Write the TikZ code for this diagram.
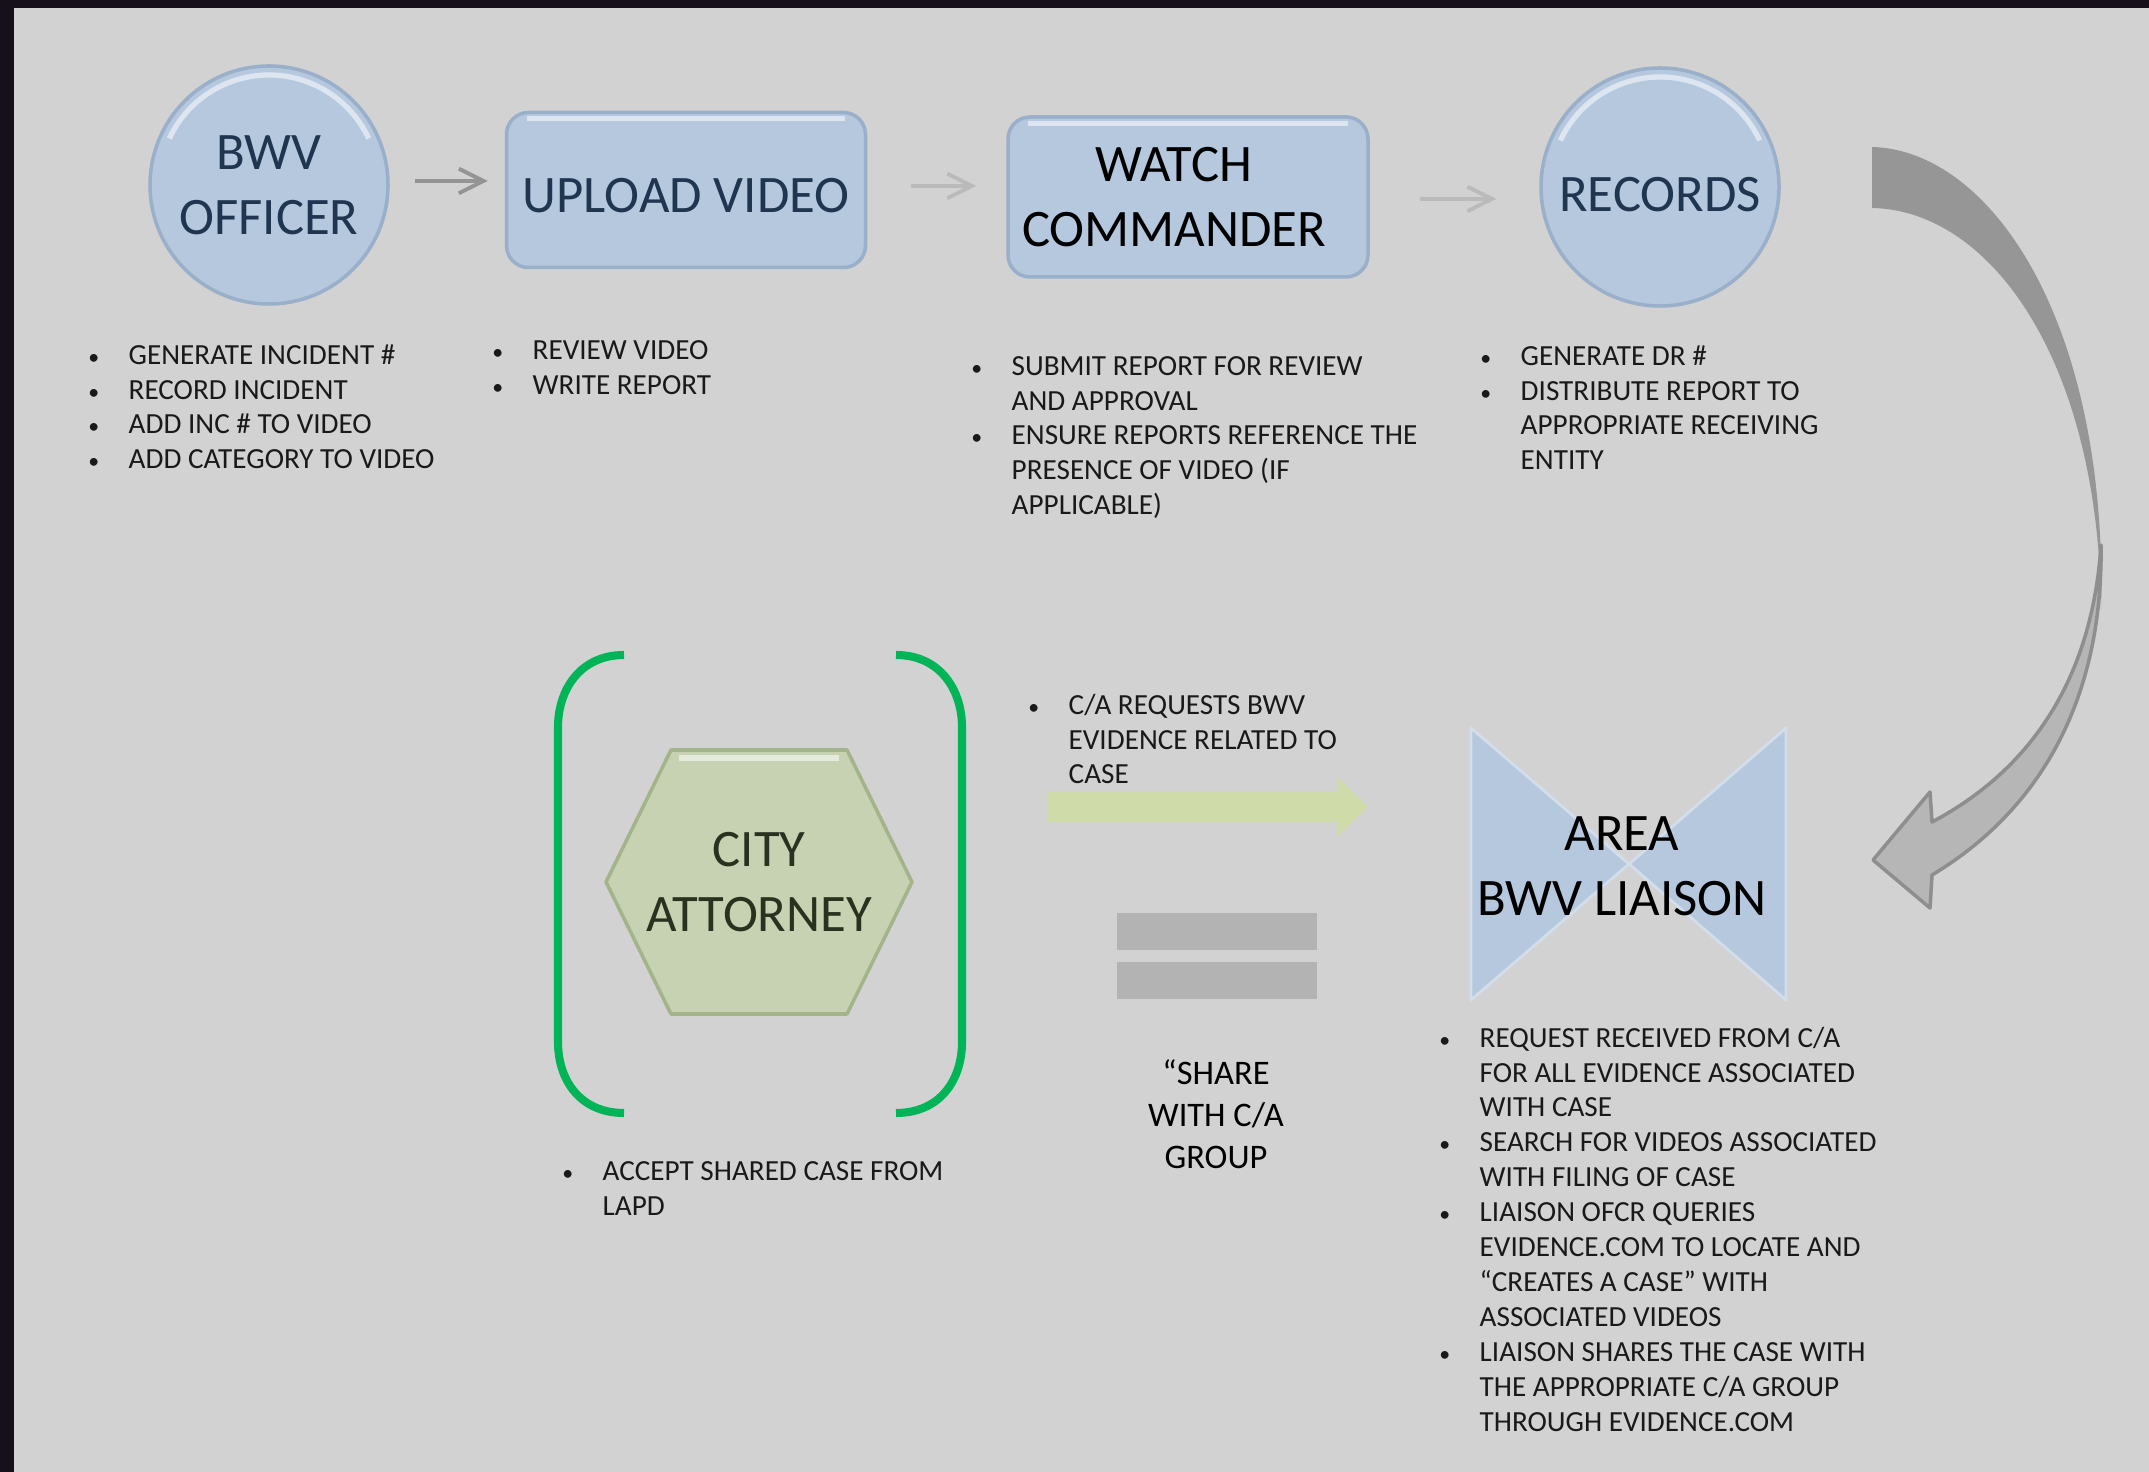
\documentclass[tikz,border=0pt]{standalone}
\usepackage{fontspec}
\setmainfont{Carlito}
\usetikzlibrary{calc,arrows.meta}
\definecolor{bgpanel}{HTML}{D2D2D2}
\definecolor{frame}{HTML}{15101A}
\definecolor{stepblue}{HTML}{B5C8DE}
\definecolor{stepedge}{HTML}{99AFCA}
\definecolor{navytext}{HTML}{1F3550}
\definecolor{sage}{HTML}{C6D2B2}
\definecolor{sageedge}{HTML}{A3B38A}
\definecolor{sagetext}{HTML}{29321E}
\definecolor{bracketgreen}{HTML}{00B457}
\definecolor{reqgreen}{HTML}{CFDCA9}
\definecolor{eqgray}{HTML}{B3B3B3}
\definecolor{curvedark}{HTML}{969696}
\definecolor{curvelight}{HTML}{B6B6B6}
\definecolor{curveedge}{HTML}{8E8E8E}
\newcommand{\bitem}{\strut\llap{\makebox[7mm]{\scalebox{0.75}{\textbullet}}}}

\begin{document}
\begin{tikzpicture}[x=0.1mm,y=-0.1mm,line join=round,
  title/.style={font=\fontsize{15}{18.5}\selectfont,align=center,inner sep=0},
  blist/.style={font=\fontsize{8.3}{9.93}\selectfont,align=left,anchor=north west,inner sep=0,text=black!90},
  roundnode/.style={circle,minimum size=23.8mm,fill=stepblue,draw=stepedge,line width=1pt,text=navytext},
  boxnode/.style={rounded corners=2.2mm,fill=stepblue,draw=stepedge,line width=1pt},
  flow/.style={-{Straight Barb[length=7pt,width=7pt]},line width=1.1pt},
  shine/.style={white,opacity=0.55,line width=1.5pt},
  bracket/.style={bracketgreen,line width=2.3pt}]
\useasboundingbox (0,0) rectangle (2149,1472);
\fill[bgpanel] (0,0) rectangle (2149,1472);
\fill[frame] (0,0) rectangle (14,1472);
\fill[frame] (0,0) rectangle (2149,8);

% top row
\node[roundnode,title] (officer) at (269,185) {BWV\\OFFICER};
\node[boxnode,title,minimum width=35.9mm,minimum height=15.5mm,text=navytext,text height=4.6mm,text depth=0mm] (upload) at (686,190) {UPLOAD VIDEO};
\node[boxnode,title,minimum width=36mm,minimum height=16mm,text=black] (watch) at (1188,197) {WATCH\hspace*{2.8mm}\\COMMANDER\hspace*{2.8mm}};
\node[roundnode,title,text height=5mm,text depth=0mm] (records) at (1660,187) {RECORDS};
\draw[shine] ($(officer.center)+(205:110)$) arc[start angle=205,end angle=335,radius=110];
\draw[shine] ($(records.center)+(205:110)$) arc[start angle=205,end angle=335,radius=110];
\draw[shine] ($(upload.north west)+(22,8)$) -- ($(upload.north east)+(-22,8)$);
\draw[shine] ($(watch.north west)+(22,8)$) -- ($(watch.north east)+(-22,8)$);

\draw[flow,black!42] ($(officer.east)+(25,-4)$) -- ($(upload.west)+(-17,-9)$);
\draw[flow,black!27] ($(upload.east)+(44,-4)$) -- ($(watch.west)+(-30,-11)$);
\draw[flow,black!27] ($(watch.east)+(50,2)$) -- ($(records.west)+(-43,12)$);

\node[blist] (officertasks) at (128,339) {\bitem GENERATE INCIDENT \#\\\bitem RECORD INCIDENT\\\bitem ADD INC \# TO VIDEO\\\bitem ADD CATEGORY TO VIDEO};
\node[blist] (uploadtasks) at (532,334) {\bitem REVIEW VIDEO\\\bitem WRITE REPORT};
\node[blist] (watchtasks) at (1011,350) {\bitem SUBMIT REPORT FOR REVIEW\\AND APPROVAL\\\bitem ENSURE REPORTS REFERENCE THE\\PRESENCE OF VIDEO (IF\\APPLICABLE)};
\node[blist] (recordtasks) at (1520,340) {\bitem GENERATE DR \#\\\bitem DISTRIBUTE REPORT TO\\APPROPRIATE RECEIVING\\ENTITY};

% curved arrow down to the liaison
\fill[curvedark] (1872,147) .. controls (1990,150) and (2108,320) .. (2101,610)
  .. controls (2099,360) and (1990,210) .. (1872,208) -- cycle;
\filldraw[fill=curvelight,draw=curveedge,line width=1pt] (2101,545) .. controls (2103,700) and (2040,810) .. (1932,875)
  -- (1930,908) -- (1873,860) -- (1930,792) -- (1932,822) .. controls (2030,770) and (2092,680) .. (2101,545) -- cycle;

% city attorney
\draw[bracket] (624,655) .. controls (580,655) and (558,690) .. (558,727) -- (558,1042) .. controls (558,1080) and (580,1113) .. (624,1113);
\draw[bracket] (896,655) .. controls (940,655) and (962,690) .. (962,727) -- (962,1042) .. controls (962,1080) and (940,1113) .. (896,1113);
\begin{scope}[shift={(759,882)}]
\filldraw[fill=sage,draw=sageedge,line width=1pt] (-153,0) -- (-88,-132) -- (88,-132) -- (153,0) -- (88,132) -- (-88,132) -- cycle;
\draw[shine] (-80,-124) -- (80,-124);
\node[title,text=sagetext] (attorney) at (0,0) {CITY\\ATTORNEY};
\end{scope}
\node[blist] (accepttext) at (602,1155) {\bitem ACCEPT SHARED CASE FROM\\LAPD};

% request and share
\node[blist] (requesttext) at (1068,689) {\bitem C/A REQUESTS BWV\\EVIDENCE RELATED TO\\CASE};
\fill[reqgreen] (1047,792) -- (1337,792) -- (1337,777) -- (1368,807) -- (1337,837) -- (1337,822) -- (1047,822) -- cycle;
\fill[eqgray] (1117,913) rectangle (1317,950);
\fill[eqgray] (1117,962) rectangle (1317,999);
\node[font=\fontsize{9.8}{11.9}\selectfont,align=center,inner sep=0] (sharenote) at (1216,1114) {“SHARE\\WITH C/A\\GROUP};

% area liaison
\filldraw[fill=stepblue,draw=stepblue!60!white,line width=0.8pt] (1471,728) -- (1629,864) -- (1786,728) -- (1786,1000) -- (1629,864) -- (1471,1000) -- cycle;
\node[title,text=black] (liaison) at (1622,866) {AREA\\BWV LIAISON};
\node[blist] (liaisontasks) at (1479,1022) {\bitem REQUEST RECEIVED FROM C/A\\FOR ALL EVIDENCE ASSOCIATED\\WITH CASE\\\bitem SEARCH FOR VIDEOS ASSOCIATED\\WITH FILING OF CASE\\\bitem LIAISON OFCR QUERIES\\EVIDENCE.COM TO LOCATE AND\\“CREATES A CASE” WITH\\ASSOCIATED VIDEOS\\\bitem LIAISON SHARES THE CASE WITH\\THE APPROPRIATE C/A GROUP\\THROUGH EVIDENCE.COM};
\end{tikzpicture}
\end{document}
